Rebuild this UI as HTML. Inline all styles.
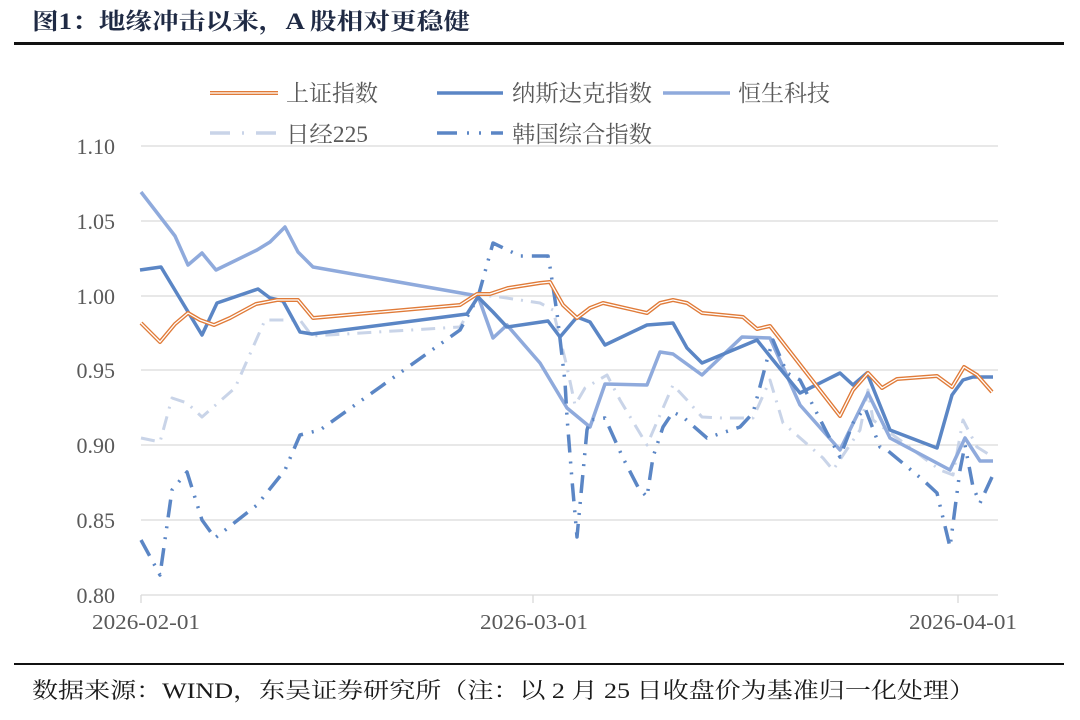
<!DOCTYPE html>
<html><head><meta charset="utf-8"><style>
body{margin:0;background:#fff;width:1080px;height:715px;overflow:hidden}
svg text{font-family:"Liberation Serif","Noto Serif CJK SC",serif}
</style></head><body>
<svg width="1080" height="715" viewBox="0 0 1080 715" xmlns="http://www.w3.org/2000/svg">
<text x="32" y="29" font-size="23" font-weight="bold" fill="#1f2a44" textLength="438" lengthAdjust="spacingAndGlyphs" style="font-family:'Liberation Serif','Noto Serif CJK SC',serif">图1：地缘冲击以来，A 股相对更稳健</text>
<rect x="14" y="42" width="1050" height="3" fill="#111"/>
<g stroke="#d9d9d9" stroke-width="1.3">
<line x1="141" y1="146" x2="998" y2="146"/><line x1="141" y1="221" x2="998" y2="221"/>
<line x1="141" y1="296" x2="998" y2="296"/><line x1="141" y1="370" x2="998" y2="370"/>
<line x1="141" y1="445" x2="998" y2="445"/><line x1="141" y1="520" x2="998" y2="520"/>
<line x1="141" y1="595" x2="998" y2="595"/>
<line x1="141" y1="595" x2="141" y2="603"/><line x1="533" y1="595" x2="533" y2="603"/><line x1="958" y1="595" x2="958" y2="603"/>
</g>
<g font-size="22" fill="#595959" text-anchor="end">
<text x="115" y="154">1.10</text><text x="115" y="229">1.05</text><text x="115" y="304">1.00</text>
<text x="115" y="378">0.95</text><text x="115" y="453">0.90</text><text x="115" y="528">0.85</text><text x="115" y="603">0.80</text>
</g>
<g font-size="21" fill="#595959">
<text x="92" y="629" textLength="108" lengthAdjust="spacingAndGlyphs">2026-02-01</text>
<text x="480" y="629" textLength="108" lengthAdjust="spacingAndGlyphs">2026-03-01</text>
<text x="909" y="629" textLength="108" lengthAdjust="spacingAndGlyphs">2026-04-01</text>
</g>
<g fill="none" stroke-linejoin="round">
<polyline stroke="#c9d4e8" stroke-width="3" stroke-dasharray="14,8,2,8" points="141,438 160,442 172,398 187,403 202,417 235,388 265,320 300,320 312,336 460,327 478,296 493,296 520,300 540,303 553,310 567,367 575,405 585,388 607,375 620,400 647,445 673,385 687,400 702,417 722,418 753,418 770,380 783,423 823,458 833,470 860,430 868,390 873,420 940,470 953,475 963,420 977,447 993,457"/>
<polyline stroke="#8faadc" stroke-width="3.5" points="141,192 175,236 188,265 202,253 216,270 257,250 270,242 285,227 298,252 313,267 478,296 493,338 507,325 540,363 567,408 590,427 605,384 647,385 660,352 673,354 702,375 742,337 770,338 800,405 840,450 868,393 890,438 950,470 965,438 980,461 993,461"/>
<polyline stroke="#5b86c5" stroke-width="3.5" points="140,270 161,267 202,335 217,303 258,289 270,298 283,301 300,332 312,334 467,314 478,297 493,312 507,327 548,321 560,337 577,317 590,322 605,345 647,325 673,323 687,348 702,363 757,340 773,360 800,393 840,373 853,385 867,373 890,430 937,448 952,395 963,380 973,377 993,377"/>
<polyline stroke="#5b86c5" stroke-width="3.5" stroke-dasharray="18,9,2,9,2,9" points="141,540 160,575 172,490 187,472 202,520 215,538 257,505 285,470 300,435 320,430 460,330 478,297 493,243 520,256 548,256 550,267 557,313 565,382 567,417 572,480 577,537 587,430 590,420 605,418 623,458 638,487 647,497 653,457 663,427 673,412 683,417 707,438 740,427 753,413 767,360 773,340 787,373 800,380 827,433 840,457 853,423 865,408 880,447 887,450 923,480 937,493 950,547 960,470 965,445 973,487 980,503 992,477"/>
<polyline stroke="#e07b39" stroke-width="4" points="141,323 160,342 175,324 188,313 200,320 214,325 230,318 256,304 277,300 298,300 313,318 460,305 477,294 490,294 508,288 540,283 550,282 563,305 577,318 590,308 603,303 647,313 660,303 673,300 687,303 702,313 743,317 757,329 770,326 840,416 853,390 868,373 882,388 897,379 937,376 952,387 964,367 977,375 992,392"/>
<polyline stroke="#fff" stroke-width="1.3" points="141,323 160,342 175,324 188,313 200,320 214,325 230,318 256,304 277,300 298,300 313,318 460,305 477,294 490,294 508,288 540,283 550,282 563,305 577,318 590,308 603,303 647,313 660,303 673,300 687,303 702,313 743,317 757,329 770,326 840,416 853,390 868,373 882,388 897,379 937,376 952,387 964,367 977,375 992,392"/>
</g>
<g font-size="23" fill="#595959" style="font-family:'Noto Serif CJK SC','Liberation Serif',serif">
<line x1="210" y1="93" x2="278" y2="93" stroke="#e07b39" stroke-width="4"/><line x1="210" y1="93" x2="278" y2="93" stroke="#fff" stroke-width="1.3"/>
<text x="286" y="101" textLength="92" lengthAdjust="spacingAndGlyphs">上证指数</text>
<line x1="437" y1="93" x2="503" y2="93" stroke="#5b86c5" stroke-width="3.5"/>
<text x="512" y="101" textLength="140" lengthAdjust="spacingAndGlyphs">纳斯达克指数</text>
<line x1="663" y1="93" x2="730" y2="93" stroke="#8faadc" stroke-width="3.5"/>
<text x="738" y="101" textLength="92" lengthAdjust="spacingAndGlyphs">恒生科技</text>
<line x1="210" y1="133" x2="278" y2="133" stroke="#c9d4e8" stroke-width="3.5" stroke-dasharray="20,12,2,12"/>
<text x="286" y="142" textLength="82" lengthAdjust="spacingAndGlyphs">日经225</text>
<line x1="437" y1="133" x2="503" y2="133" stroke="#5b86c5" stroke-width="3.5" stroke-dasharray="20,10,2,10,2,10"/>
<text x="512" y="142" textLength="140" lengthAdjust="spacingAndGlyphs">韩国综合指数</text>
</g>
<rect x="14" y="663" width="1050" height="2" fill="#111"/>
<text x="32" y="698" font-size="22" fill="#1a1a1a" textLength="943" lengthAdjust="spacingAndGlyphs" style="font-family:'Liberation Serif','Noto Serif CJK SC',serif">数据来源：WIND，东吴证券研究所（注：以 2 月 25 日收盘价为基准归一化处理）</text>
</svg>
</body></html>
